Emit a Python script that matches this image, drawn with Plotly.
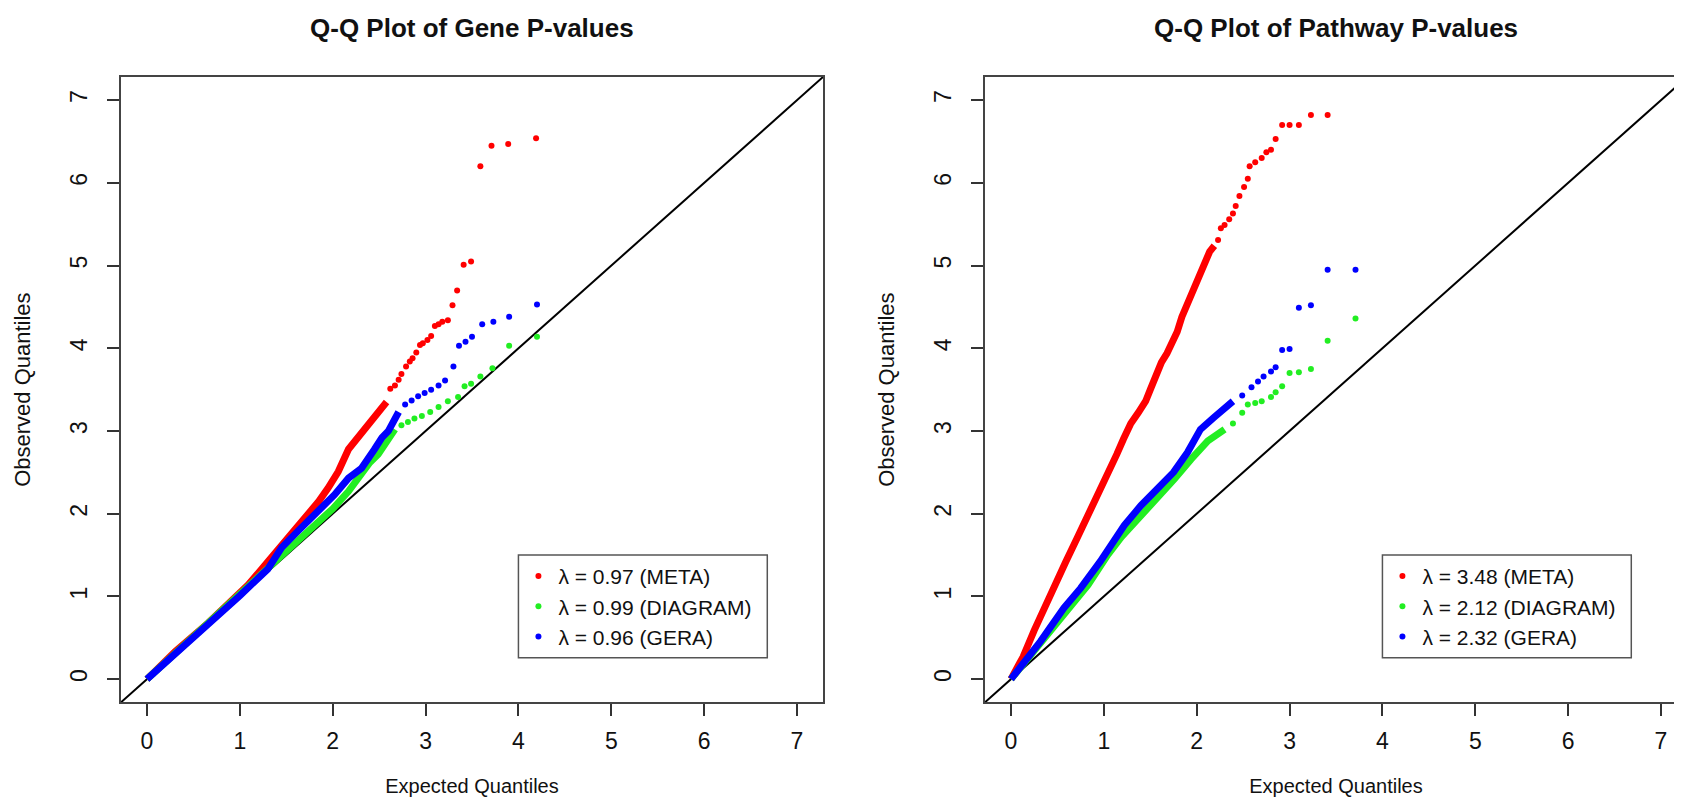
import plotly.graph_objects as go

# ---------------- data ----------------
AXIS_RANGE = [-0.28, 7.28]
TICKS = [0, 1, 2, 3, 4, 5, 6, 7]

# Left panel: Gene P-values
gene_meta_body_x = [0, 0.30, 0.66, 0.88, 1.09, 1.31, 1.49, 1.63, 1.74, 1.85, 1.95, 2.06, 2.17, 2.31, 2.45, 2.52, 2.58]
gene_meta_body_y = [0, 0.33, 0.68, 0.91, 1.14, 1.43, 1.67, 1.83, 1.99, 2.15, 2.31, 2.51, 2.78, 2.98, 3.17, 3.25, 3.35]
gene_meta_tail_x = [2.62, 2.67, 2.71, 2.74, 2.79, 2.83, 2.86, 2.90, 2.94, 2.97, 3.02, 3.06, 3.10, 3.14, 3.18, 3.24,
                    3.29, 3.34, 3.41, 3.49, 3.59, 3.71, 3.89, 4.19]
gene_meta_tail_y = [3.51, 3.55, 3.62, 3.69, 3.78, 3.84, 3.88, 3.95, 4.04, 4.06, 4.10, 4.15, 4.27, 4.29, 4.32, 4.34,
                    4.52, 4.70, 5.01, 5.05, 6.20, 6.45, 6.47, 6.54]

gene_diag_body_x = [0, 0.5, 1.0, 1.4, 1.7, 2.0, 2.17, 2.28, 2.40, 2.49, 2.58, 2.67]
gene_diag_body_y = [0, 0.52, 1.04, 1.46, 1.76, 2.06, 2.27, 2.45, 2.62, 2.72, 2.88, 3.02]
gene_diag_tail_x = [2.74, 2.81, 2.88, 2.96, 3.05, 3.14, 3.24, 3.35, 3.42, 3.49, 3.59, 3.72, 3.90, 4.20]
gene_diag_tail_y = [3.07, 3.11, 3.15, 3.18, 3.23, 3.29, 3.36, 3.41, 3.54, 3.57, 3.66, 3.76, 4.03, 4.14]

gene_gera_body_x = [0, 0.5, 1.0, 1.3, 1.45, 1.59, 1.74, 1.88, 2.02, 2.17, 2.31, 2.45, 2.53, 2.60, 2.67, 2.71]
gene_gera_body_y = [0, 0.50, 1.01, 1.33, 1.59, 1.75, 1.91, 2.07, 2.23, 2.43, 2.55, 2.78, 2.92, 3.00, 3.16, 3.23]
gene_gera_tail_x = [2.78, 2.85, 2.92, 2.99, 3.06, 3.14, 3.21, 3.30, 3.36, 3.43, 3.50, 3.61, 3.73, 3.90, 4.20]
gene_gera_tail_y = [3.32, 3.37, 3.42, 3.46, 3.50, 3.55, 3.61, 3.78, 4.03, 4.08, 4.14, 4.29, 4.32, 4.38, 4.53]

# Right panel: Pathway P-values
path_meta_body_x = [0, 0.13, 0.25, 0.36, 0.48, 0.59, 0.71, 0.81, 0.90, 1.00, 1.08, 1.14, 1.21, 1.29, 1.37, 1.45,
                    1.50, 1.56, 1.62, 1.68, 1.74, 1.79, 1.84, 1.89, 1.93, 1.97, 2.01, 2.04, 2.07, 2.11, 2.14, 2.19]
path_meta_body_y = [0, 0.27, 0.59, 0.87, 1.14, 1.42, 1.70, 1.93, 2.16, 2.39, 2.58, 2.72, 2.90, 3.09, 3.22, 3.36,
                    3.50, 3.69, 3.83, 3.94, 4.06, 4.20, 4.38, 4.52, 4.59, 4.70, 4.80, 4.89, 4.98, 5.10, 5.17, 5.24]
path_meta_tail_x = [2.23, 2.26, 2.30, 2.35, 2.39, 2.42, 2.46, 2.51, 2.55, 2.57, 2.63, 2.70, 2.75, 2.80, 2.85,
                    2.92, 3.00, 3.10, 3.23, 3.41]
path_meta_tail_y = [5.31, 5.45, 5.49, 5.56, 5.63, 5.72, 5.84, 5.95, 6.05, 6.20, 6.25, 6.30, 6.37, 6.40, 6.53,
                    6.70, 6.70, 6.70, 6.82, 6.82]

path_diag_body_x = [0, 0.39, 0.61, 0.83, 1.04, 1.19, 1.37, 1.54, 1.76, 1.94, 2.12, 2.30]
path_diag_body_y = [0, 0.54, 0.82, 1.14, 1.50, 1.72, 1.94, 2.14, 2.42, 2.66, 2.88, 3.02]
path_diag_tail_x = [2.39, 2.49, 2.55, 2.63, 2.70, 2.80, 2.85, 2.92, 3.00, 3.10, 3.23, 3.41, 3.71]
path_diag_tail_y = [3.09, 3.22, 3.32, 3.34, 3.36, 3.41, 3.47, 3.54, 3.70, 3.71, 3.75, 4.09, 4.36]

path_gera_body_x = [0, 0.32, 0.57, 0.75, 0.96, 1.11, 1.22, 1.40, 1.54, 1.75, 1.90, 2.04, 2.18, 2.30, 2.39]
path_gera_body_y = [0, 0.46, 0.86, 1.10, 1.42, 1.66, 1.86, 2.10, 2.26, 2.50, 2.74, 3.02, 3.16, 3.27, 3.36]
path_gera_tail_x = [2.49, 2.59, 2.66, 2.72, 2.80, 2.85, 2.92, 3.00, 3.10, 3.23, 3.41, 3.71]
path_gera_tail_y = [3.43, 3.53, 3.60, 3.66, 3.72, 3.77, 3.98, 3.99, 4.49, 4.52, 4.95, 4.95]

gene_labels = ["λ = 0.97 (META)", "λ = 0.99 (DIAGRAM)", "λ = 0.96 (GERA)"]
path_labels = ["λ = 3.48 (META)", "λ = 2.12 (DIAGRAM)", "λ = 2.32 (GERA)"]
titles = ["Q-Q Plot of Gene P-values", "Q-Q Plot of Pathway P-values"]
colors = ["#FF0000", "#22EE22", "#0000FF"]

# legend box corners in data units (same for both panels)
legend_box_x = [4.0, 6.68]
legend_box_y = [0.26, 1.50]

# ---------------- figure ----------------
W, H = 1682, 800
FONT = "Liberation Sans, Arial, Helvetica, sans-serif"
fig = go.Figure()

panels = [
    dict(xa="x", ya="y", legend="legend", labels=gene_labels,
         series=[(gene_meta_body_x, gene_meta_body_y, gene_meta_tail_x, gene_meta_tail_y),
                 (gene_diag_body_x, gene_diag_body_y, gene_diag_tail_x, gene_diag_tail_y),
                 (gene_gera_body_x, gene_gera_body_y, gene_gera_tail_x, gene_gera_tail_y)]),
    dict(xa="x2", ya="y2", legend="legend2", labels=path_labels,
         series=[(path_meta_body_x, path_meta_body_y, path_meta_tail_x, path_meta_tail_y),
                 (path_diag_body_x, path_diag_body_y, path_diag_tail_x, path_diag_tail_y),
                 (path_gera_body_x, path_gera_body_y, path_gera_tail_x, path_gera_tail_y)]),
]

for p in panels:
    # reference line y = x across the whole plotting region
    fig.add_trace(go.Scatter(x=AXIS_RANGE, y=AXIS_RANGE, mode="lines",
                             line=dict(color="black", width=2), showlegend=False,
                             hoverinfo="skip", xaxis=p["xa"], yaxis=p["ya"], cliponaxis=True))
    for (bx, by, tx, ty), col, lab in zip(p["series"], colors, p["labels"]):
        fig.add_trace(go.Scatter(x=bx, y=by, mode="lines", line=dict(color=col, width=7),
                                 showlegend=False, xaxis=p["xa"], yaxis=p["ya"], hoverinfo="skip"))
        fig.add_trace(go.Scatter(x=tx, y=ty, mode="markers", name=lab,
                                 marker=dict(color=col, size=6, line=dict(width=0)),
                                 legend=p["legend"], xaxis=p["xa"], yaxis=p["ya"]))

x_dom = [[113 / W, 815 / W], [977 / W, 1679 / W]]
y_dom = [1 - 694.3 / H, 1 - 69 / H]

axis_common = dict(range=AXIS_RANGE, tickmode="array", tickvals=TICKS, ticks="outside",
                   ticklen=12, tickwidth=1.5, tickcolor="#333", showline=True, linecolor="#444",
                   linewidth=1.5, mirror=True, showgrid=False, zeroline=False,
                   tickfont=dict(family=FONT, size=23, color="#111"), fixedrange=True)

layout = dict(width=W, height=H, margin=dict(l=0, r=0, t=0, b=0),
              paper_bgcolor="white", plot_bgcolor="white", font=dict(family=FONT, color="#111"))
for i, (xa, ya) in enumerate([("xaxis", "yaxis"), ("xaxis2", "yaxis2")]):
    suffix = "" if i == 0 else "2"
    layout[xa] = dict(axis_common, domain=x_dom[i], anchor="y" + suffix, ticklabelstandoff=5,
                      title=dict(text="Expected Quantiles", font=dict(family=FONT, size=20, color="#111"),
                                 standoff=26))
    layout[ya] = dict(axis_common, domain=y_dom, anchor="x" + suffix, tickangle=-90, ticklabelstandoff=11,
                      title=dict(text="Observed Quantiles", font=dict(family=FONT, size=22, color="#111"),
                                 standoff=29))
fig.update_layout(**layout)

# legends (one per panel), boxes drawn as shapes in data coordinates
for i, (lg, xa, ya) in enumerate([("legend", "x", "y"), ("legend2", "x2", "y2")]):
    x_left = x_dom[i][0] + (legend_box_x[0] - AXIS_RANGE[0]) / (AXIS_RANGE[1] - AXIS_RANGE[0]) * (x_dom[i][1] - x_dom[i][0])
    y_mid_data = (legend_box_y[0] + legend_box_y[1]) / 2
    y_mid = y_dom[0] + (y_mid_data - AXIS_RANGE[0]) / (AXIS_RANGE[1] - AXIS_RANGE[0]) * (y_dom[1] - y_dom[0])
    fig.update_layout(**{lg: dict(x=x_left, y=y_mid, xanchor="left", yanchor="middle",
                                  bgcolor="rgba(0,0,0,0)", borderwidth=0,
                                  font=dict(family=FONT, size=21, color="#111"),
                                  traceorder="normal", itemclick=False, itemdoubleclick=False)})
    fig.add_shape(type="rect", xref=xa, yref=ya, x0=legend_box_x[0], x1=legend_box_x[1],
                  y0=legend_box_y[0], y1=legend_box_y[1], line=dict(color="#555", width=1.5),
                  fillcolor="rgba(0,0,0,0)", layer="above")

# panel titles
for i, t in enumerate(titles):
    fig.add_annotation(text="<b>%s</b>" % t, x=(x_dom[i][0] + x_dom[i][1]) / 2, y=1 - 20 / H,
                       xref="paper", yref="paper", showarrow=False, xanchor="center", yanchor="middle",
                       font=dict(family=FONT, size=26, color="#111"))

fig.write_html("out.html")
